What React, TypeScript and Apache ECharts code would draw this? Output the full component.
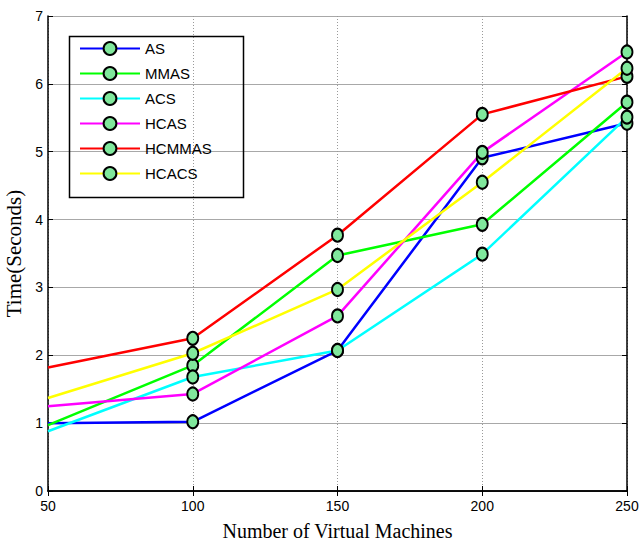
import React, { useEffect, useRef } from "react";
import * as echarts from "echarts";

const vmCounts = [50, 100, 150, 200, 250];
const seriesNames = ["AS", "MMAS", "ACS", "HCAS", "HCMMAS", "HCACS"];
const lineColors = ["#0000ff", "#00ff00", "#00ffff", "#ff00ff", "#ff0000", "#ffff00"];
const asTimes = [1.0, 1.02, 2.07, 4.91, 5.42];
const mmasTimes = [0.97, 1.85, 3.47, 3.93, 5.73];
const acsTimes = [0.88, 1.68, 2.07, 3.49, 5.51];
const hcasTimes = [1.25, 1.43, 2.58, 4.99, 6.47];
const hcmmasTimes = [1.82, 2.25, 3.77, 5.55, 6.11];
const hcacsTimes = [1.37, 2.03, 2.97, 4.55, 6.23];
const allTimes = [asTimes, mmasTimes, acsTimes, hcasTimes, hcmmasTimes, hcacsTimes];
const xTitle = "Number of Virtual Machines";
const yTitle = "Time(Seconds)";

const SANS = "'Liberation Sans', Arial, sans-serif";
const SERIF = "'Liberation Serif', 'Times New Roman', serif";

export default function App() {
  const ref = useRef<HTMLDivElement>(null);
  useEffect(() => {
    if (!ref.current) return;
    const chart = echarts.init(ref.current, undefined, { renderer: "svg" });
    const series = seriesNames.map((name, i) => ({
      name,
      type: "line",
      color: lineColors[i],
      symbol: "circle",
      symbolSize: [11, 13],
      lineStyle: { color: lineColors[i], width: 2.5 },
      itemStyle: { color: "#80e89c", borderColor: "#000000", borderWidth: 2 },
      emphasis: { disabled: true },
      data: vmCounts.map((x, j) =>
        j === 0 ? { value: [x, allTimes[i][j]], symbol: "none" } : { value: [x, allTimes[i][j]] }
      ),
    }));
    const frameLine = { show: true, lineStyle: { color: "#000", width: 1.5 } };
    chart.setOption({
      animation: false,
      backgroundColor: "#ffffff",
      grid: { left: 48, right: 14, top: 16, bottom: 52, outerBoundsMode: "none", containLabel: false },
      legend: {
        orient: "vertical",
        left: 79,
        top: 41,
        itemWidth: 60,
        itemHeight: 16,
        itemGap: 10,
        padding: 0,
        selectedMode: false,
        textStyle: { fontFamily: SANS, fontSize: 15, color: "#000" },
        data: seriesNames,
      },
      graphic: [
        {
          type: "rect",
          left: 67,
          top: 34,
          shape: { width: 174, height: 161 },
          style: { fill: "none", stroke: "#000", lineWidth: 1.5 },
          z: 10,
        },
      ],
      xAxis: [
        {
          type: "value",
          min: 50,
          max: 250,
          interval: 50,
          position: "bottom",
          name: xTitle,
          nameLocation: "middle",
          nameGap: 30,
          nameTextStyle: { fontFamily: SERIF, fontSize: 20, color: "#000" },
          axisLine: frameLine,
          axisTick: { show: true, inside: true, length: 5, lineStyle: { color: "#000" } },
          axisLabel: { fontFamily: SANS, fontSize: 14, color: "#000", margin: 8 },
          splitLine: { show: true, lineStyle: { color: "#9a9a9a", type: [1, 2], width: 1 } },
        },
        {
          type: "value",
          min: 50,
          max: 250,
          interval: 50,
          position: "top",
          axisLine: frameLine,
          axisTick: { show: true, inside: true, length: 5, lineStyle: { color: "#000" } },
          axisLabel: { show: false },
          splitLine: { show: false },
        },
      ],
      yAxis: [
        {
          type: "value",
          min: 0,
          max: 7,
          interval: 1,
          position: "left",
          name: yTitle,
          nameLocation: "middle",
          nameGap: 22,
          nameTextStyle: { fontFamily: SERIF, fontSize: 21, color: "#000" },
          axisLine: frameLine,
          axisTick: { show: true, inside: true, length: 5, lineStyle: { color: "#000" } },
          axisLabel: { fontFamily: SANS, fontSize: 14, color: "#000", margin: 5 },
          splitLine: { show: true, lineStyle: { color: "#a8a8a8", width: 1 } },
        },
        {
          type: "value",
          min: 0,
          max: 7,
          interval: 1,
          position: "right",
          axisLine: frameLine,
          axisTick: { show: true, inside: true, length: 5, lineStyle: { color: "#000" } },
          axisLabel: { show: false },
          splitLine: { show: false },
        },
      ],
      series,
    });
    return () => chart.dispose();
  }, []);
  return (
    <div
      ref={ref}
      style={{ position: "absolute", left: 0, top: 0, width: 641, height: 543, background: "#fff" }}
    />
  );
}
